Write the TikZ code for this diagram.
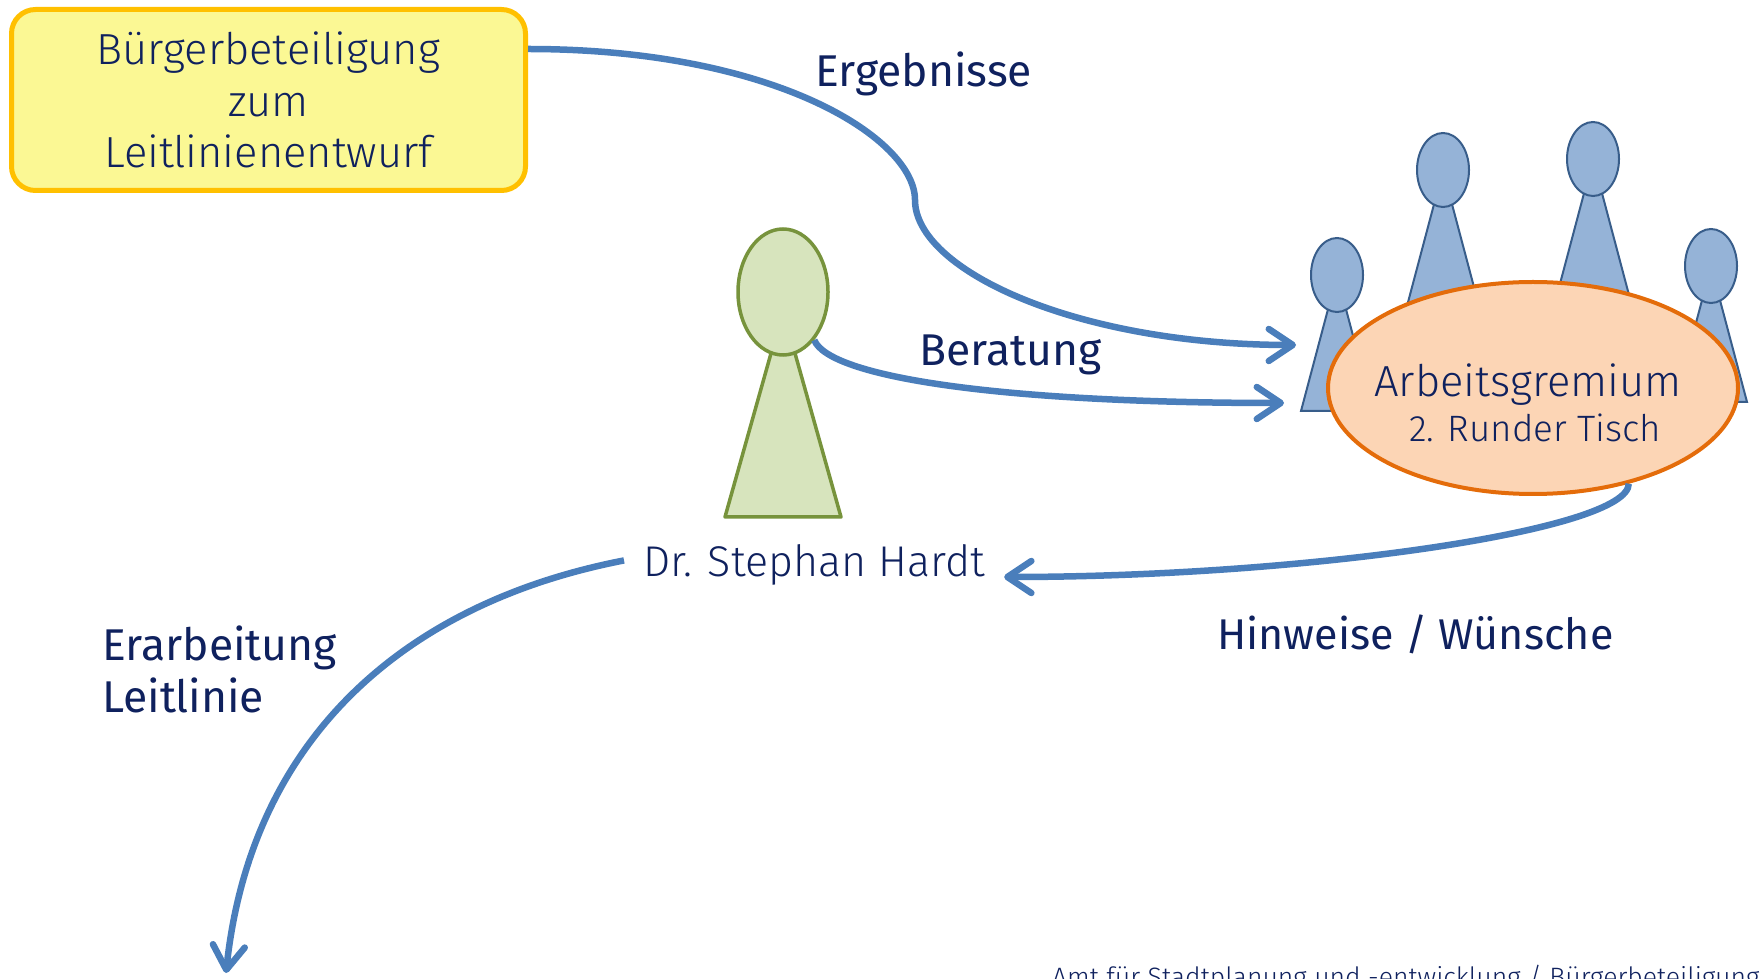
\documentclass[tikz,border=0pt]{standalone}
\usepackage{fontspec}
\setmainfont{Fira Sans}
\newfontfamily\leicht{Fira Sans Light}
\usetikzlibrary{positioning, shapes.geometric, arrows.meta}

\definecolor{schrift}{RGB}{15,33,94}
\definecolor{pfeilblau}{RGB}{74,126,187}
\definecolor{kastengelb}{RGB}{251,248,148}
\definecolor{kastenrand}{RGB}{255,192,0}
\definecolor{gruenrand}{RGB}{119,147,60}
\definecolor{gruen}{RGB}{215,228,189}
\definecolor{figurrand}{RGB}{56,93,138}
\definecolor{figurblau}{RGB}{149,179,215}
\definecolor{tischrand}{RGB}{228,108,10}
\definecolor{tisch}{RGB}{252,213,181}

\begin{document}
\begin{tikzpicture}[x=1pt, y=1pt,
	pfeil/.style={draw=pfeilblau, line width=6.5pt, -{Straight Barb[length=24pt, width=32pt, round]}},
	txt/.style={text=schrift, inner sep=0pt, font={\fontsize{44.5}{52}\selectfont}},
	duenn/.style={text=schrift, inner sep=0pt, font={\leicht\fontsize{43.5}{51.5}\selectfont}},
	kasten/.style={draw=kastenrand, fill=kastengelb, line width=5pt, rounded corners=24pt, minimum width=514pt, minimum height=181pt, align=center},
	kopf/.style={ellipse, draw=figurrand, fill=figurblau, line width=2pt, minimum width=52pt, minimum height=74pt, inner sep=0pt},
	rumpf/.style={draw=figurrand, fill=figurblau, line width=2pt},
	gruenkopf/.style={ellipse, draw=gruenrand, fill=gruen, line width=3.5pt, minimum width=90pt, minimum height=126pt, inner sep=0pt},
	gruenrumpf/.style={draw=gruenrand, fill=gruen, line width=3.5pt, line join=round},
	runder tisch/.style={ellipse, draw=tischrand, fill=tisch, line width=4pt, minimum width=410pt, minimum height=212pt, inner sep=0pt}]
	\useasboundingbox (0,0) rectangle (1764,978);
	
	\node[kasten, duenn] (buerger) at (268.5,878) {Bürgerbeteiligung\\zum\\Leitlinienentwurf};
	
	% Dr. Hardt
	\draw[gruenrumpf] (725,461) -- (772.5,630) -- (793.5,630) -- (841,461) -- cycle;
	\node[gruenkopf] (hardtkopf) at (783,686) {};
	\node[duenn, font={\leicht\fontsize{43}{51.5}\selectfont}, inner xsep=19pt, anchor=base west] (hardt) at (624,401) {Dr. Stephan Hardt};
	
	% Arbeitsgremium
	\draw[rumpf] (1337,703) ++(-36,-136) -- ++(27.6,104) -- ++(16.8,0) -- ++(27.6,-104) -- cycle;
	\node[kopf] (kopfa) at (1337,703) {};
	\draw[rumpf] (1443,808) ++(-36,-136) -- ++(27.6,104) -- ++(16.8,0) -- ++(27.6,-104) -- cycle;
	\node[kopf] (kopfb) at (1443,808) {};
	\draw[rumpf] (1593,819) ++(-36,-136) -- ++(27.6,104) -- ++(16.8,0) -- ++(27.6,-104) -- cycle;
	\node[kopf] (kopfc) at (1593,819) {};
	\draw[rumpf] (1711,712) ++(-36,-136) -- ++(27.6,104) -- ++(16.8,0) -- ++(27.6,-104) -- cycle;
	\node[kopf] (kopfd) at (1711,712) {};
	\node[runder tisch] (gremium) at (1533,590) {};
	\node[duenn, anchor=base] (gremiumtitel) at (1528,581) {Arbeitsgremium};
	\node[duenn, font={\leicht\fontsize{36.7}{45}\selectfont}, anchor=base] (gremiumzusatz) at (1535,536) {2. Runder Tisch};
	
	% Beschriftungen
	\node[txt, anchor=base west] (ergebnisse) at (815,891) {Ergebnisse};
	\node[txt, anchor=base west] (beratung) at (919,612) {Beratung};
	\node[txt, font={\fontsize{43}{52}\selectfont}, anchor=base west] (hinweise) at (1217,328) {Hinweise / Wünsche};
	\node[txt, anchor=north west, align=left] (erarbeitung) at (102,352) {Erarbeitung\\Leitlinie};
	\node[duenn, font={\leicht\fontsize{26.6}{30}\selectfont}, anchor=base west] (fusszeile) at (1052,-8) {Amt für Stadtplanung und -entwicklung / Bürgerbeteiligung};
	
	\coordinate (knick) at (915,778);
	\coordinate (ergebnisende) at (1296,633);
	\coordinate (beratungende) at (1284,575);
	\coordinate (erarbeitungende) at (226,5);
	
	\draw[pfeil] ([yshift=51pt]buerger.east) to[out=0, in=90, out distance=250pt, in distance=60pt] (knick)
		to[out=-90, in=180, out distance=70pt, in distance=220pt] (ergebnisende);
	\draw[pfeil] (hardtkopf.-57) to[out=-68, in=180, out distance=40pt, in distance=284pt] (beratungende);
	\draw[pfeil] (gremium.-45) to[out=-90, in=0, out distance=47pt, in distance=298pt] (hardt.base east);
	\draw[pfeil] ([yshift=5pt]hardt.west) to[out=191, in=84, distance=230pt] (erarbeitungende);
\end{tikzpicture}
\end{document}
